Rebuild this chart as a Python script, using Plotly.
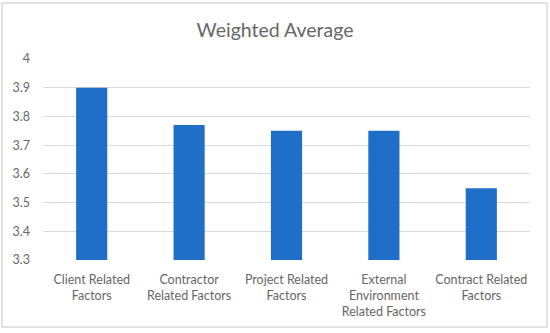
import plotly.graph_objects as go

categories = [
    "Client Related<br>Factors",
    "Contractor<br>Related Factors",
    "Project Related<br>Factors",
    "External<br>Environment<br>Related Factors",
    "Contract Related<br>Factors",
]
values = [3.90, 3.77, 3.75, 3.75, 3.55]
y_ticks = [3.3, 3.4, 3.5, 3.6, 3.7, 3.8, 3.9, 4.0]
y_tick_labels = ["3.3", "3.4", "3.5", "3.6", "3.7", "3.8", "3.9", "4"]
y_min, y_max = 3.3, 4.0

FONT = "Lato, 'Open Sans', sans-serif"
TEXT = "#666666"

fig = go.Figure(go.Bar(
    x=categories,
    y=[v - y_min for v in values],
    base=y_min,
    marker=dict(color="#1f6fc8", line=dict(width=0)),
    hovertext=[str(v) for v in values],
))

W, H = 550, 333
ml, mr, mt, mb = 43, 20, 59, 73
pw, ph = W - ml - mr, H - mt - mb

def px_x(x):
    return (x - ml) / pw

def px_y(y):
    return (H - mb - y) / ph

fig.update_layout(
    width=W, height=H,
    margin=dict(l=ml, r=mr, t=mt, b=mb, autoexpand=False),
    paper_bgcolor="white", plot_bgcolor="white",
    title=dict(text="Weighted Average", x=0.5, xanchor="center", y=1 - 30 / H, yanchor="middle",
               font=dict(family=FONT, size=19.5, color=TEXT)),
    bargap=0.68,
    showlegend=False,
    xaxis=dict(showgrid=False, showline=False, ticks="", automargin=False,
               tickfont=dict(family=FONT, size=12.5, color=TEXT), ticklabelstandoff=10),
    yaxis=dict(range=[y_min, y_max], tickvals=y_ticks, ticktext=y_tick_labels, automargin=False,
               showgrid=True, gridcolor="#d9d9d9", gridwidth=1, zeroline=False, showline=False,
               tickfont=dict(family=FONT, size=12.5, color=TEXT), ticklabelstandoff=12),
    shapes=[dict(type="rect", xref="paper", yref="paper",
                 x0=px_x(2), x1=px_x(547), y0=px_y(3), y1=px_y(327),
                 line=dict(color="#d9d9d9", width=1.5), fillcolor="rgba(0,0,0,0)", layer="below")],
)

fig.write_html("out.html", config={"displayModeBar": False},
               post_script="document.body.style.margin='0';document.body.style.overflow='hidden';")
